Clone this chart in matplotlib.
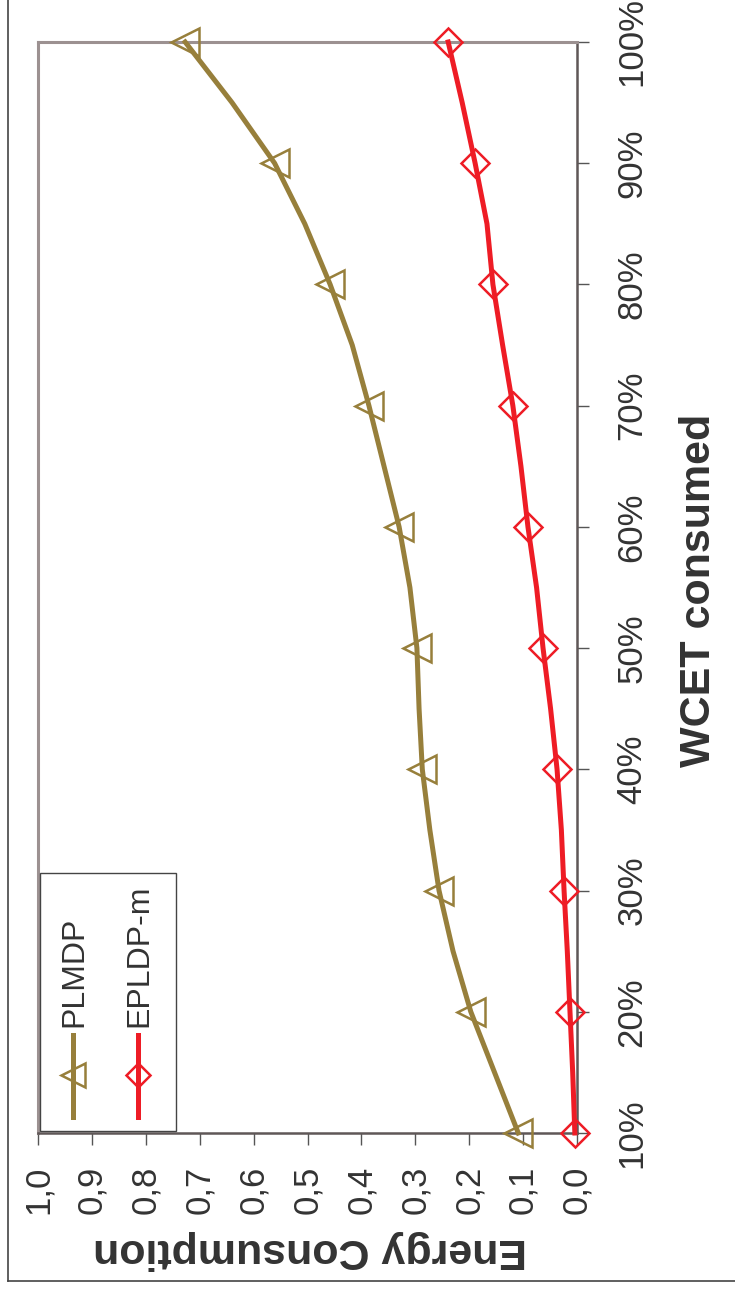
import matplotlib
matplotlib.use("Agg")
import matplotlib.pyplot as plt
from matplotlib.lines import Line2D
from matplotlib.patches import Rectangle

plt.rcParams['font.family'] = ['Liberation Sans', 'DejaVu Sans']

# WCET consumed (%) and energy consumption per scheme
wcet = [10, 15, 20, 25, 30, 35, 40, 45, 50, 55, 60, 65, 70, 75, 80, 85, 90, 95, 100]
plmdp = [0.109, 0.153, 0.197, 0.230, 0.256, 0.273, 0.287, 0.293, 0.297, 0.310,
         0.330, 0.358, 0.386, 0.417, 0.458, 0.505, 0.561, 0.640, 0.727]
epldp_m = [0.004, 0.008, 0.013, 0.018, 0.024, 0.029, 0.037, 0.049, 0.063, 0.075,
           0.091, 0.104, 0.119, 0.138, 0.156, 0.167, 0.189, 0.213, 0.239]

series_names = ["PLMDP", "EPLDP-m"]
energy_ticks = [0.0, 0.1, 0.2, 0.3, 0.4, 0.5, 0.6, 0.7, 0.8, 0.9, 1.0]
energy_labels = ["0,0", "0,1", "0,2", "0,3", "0,4", "0,5", "0,6", "0,7", "0,8", "0,9", "1,0"]
wcet_ticks = [10, 20, 30, 40, 50, 60, 70, 80, 90, 100]
wcet_labels = ["10%", "20%", "30%", "40%", "50%", "60%", "70%", "80%", "90%", "100%"]

OLIVE = "#977f3b"
RED = "#ee1c25"
TXT = "#333333"

W, H = 735, 1297
fig = plt.figure(figsize=(W / 100, H / 100), dpi=100)

# plot area in pixels (the chart is laid out turned a quarter turn)
L, R, T, B = 38, 577, 42, 1133
ax = fig.add_axes([L / W, (H - B) / H, (R - L) / W, (B - T) / H])

styles = [dict(color=OLIVE, marker="<", ms=20),
          dict(color=RED, marker="D", ms=14.5)]
for vals, st in zip([plmdp, epldp_m], styles):
    ax.plot(vals, wcet, color=st["color"], lw=3.6, marker=st["marker"],
            ms=st["ms"], mfc="none", mec=st["color"], mew=1.8,
            markevery=2, clip_on=False, zorder=3)

ax.set_xlim(1.0, 0.0)
ax.set_ylim(10, 100)

ax.set_xticks(energy_ticks)
ax.set_xticklabels(energy_labels, rotation=90, fontsize=25, color=TXT)
ax.set_yticks(wcet_ticks)
ax.set_yticklabels(wcet_labels, rotation=90, fontsize=25, color=TXT, va="center")
ax.yaxis.tick_right()
ax.tick_params(axis="x", direction="out", length=8.5, width=1, color="#555555", pad=15)
ax.tick_params(axis="y", direction="out", length=8.5, width=1, color="#555555", pad=19)

for side in ("top", "left"):
    ax.spines[side].set_color("#9c9191")
    ax.spines[side].set_linewidth(2.2)
for side in ("right", "bottom"):
    ax.spines[side].set_color("#5f5757")
    ax.spines[side].set_linewidth(1.8)

# axis titles
fig.text(699 / W, 1 - 590 / H, "WCET consumed", rotation=90, fontsize=31,
         fontweight="bold", color=TXT, ha="center", va="center")
fig.text(310 / W, 1 - 1250 / H, "Energy Consumption", rotation=180, fontsize=31,
         fontweight="bold", color=TXT, ha="center", va="center")

# legend box drawn in axes fractions
def ax_x(px):
    return (px - L) / (R - L)

def ax_y(py):
    return (B - py) / (B - T)

ax.add_patch(Rectangle((ax_x(40), ax_y(1131)), ax_x(176) - ax_x(40),
                       ax_y(873) - ax_y(1131), transform=ax.transAxes,
                       fill=True, facecolor="white", edgecolor="#444444",
                       lw=1, zorder=4))
for name, st, px in zip(series_names, styles, [73, 138]):
    ax.add_line(Line2D([ax_x(px)] * 2, [ax_y(1117), ax_y(1035)],
                       transform=ax.transAxes, color=st["color"], lw=3.6, zorder=5))
    ax.add_line(Line2D([ax_x(px)], [ax_y(1075)], transform=ax.transAxes,
                       marker=st["marker"], ms=st["ms"] * 0.83, mfc="none",
                       mec=st["color"], mew=1.8, color=st["color"], zorder=5))
    ax.text(ax_x(px + 1), ax_y(1027), name, transform=ax.transAxes, rotation=90,
            fontsize=23, color=TXT, ha="center", va="bottom", zorder=6)

# outer frame of the figure
fig.add_artist(Line2D([8 / W, 8 / W], [1 - 1281 / H, 1.0], transform=fig.transFigure,
                      color="#444444", lw=1.2))
fig.add_artist(Line2D([8 / W, 1.0], [1 - 1281 / H, 1 - 1281 / H],
                      transform=fig.transFigure, color="#444444", lw=1.2))

fig.savefig("out.png", dpi=100, facecolor="white")
